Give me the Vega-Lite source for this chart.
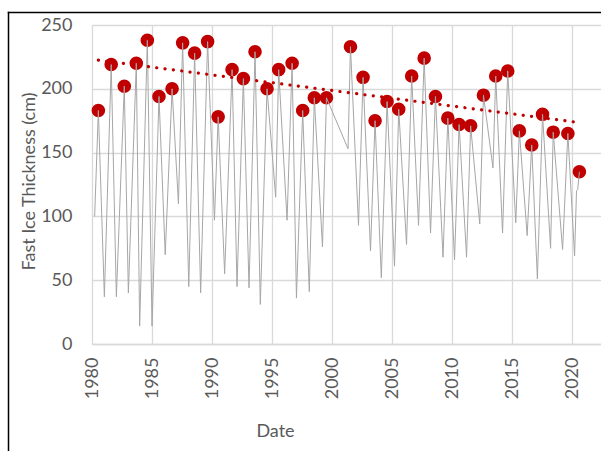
{
  "$schema": "https://vega.github.io/schema/vega-lite/v6.json",
  "width": 509,
  "height": 319,
  "autosize": {"type": "none"},
  "padding": {"left": 92, "top": 25, "right": 0, "bottom": 107},
  "background": "white",
  "config": {
    "view": {"stroke": null},
    "font": "Lato",
    "axis": {
      "labelFont": "Lato", "labelFontSize": 18, "labelColor": "#595959",
      "titleFont": "Lato", "titleFontSize": 18, "titleColor": "#595959", "titleFontWeight": "normal",
      "gridColor": "#d9d9d9", "gridWidth": 1.3, "ticks": false,
      "domainColor": "#d9d9d9", "domainWidth": 1.3
    }
  },
  "data": {"values": [
    {"year": 1980.22, "thickness": 100, "annual_max": false},
    {"year": 1980.53, "thickness": 183, "annual_max": true},
    {"year": 1981.03, "thickness": 37, "annual_max": false},
    {"year": 1981.60, "thickness": 219, "annual_max": true},
    {"year": 1982.03, "thickness": 37, "annual_max": false},
    {"year": 1982.69, "thickness": 202, "annual_max": true},
    {"year": 1983.03, "thickness": 40, "annual_max": false},
    {"year": 1983.69, "thickness": 220, "annual_max": true},
    {"year": 1983.97, "thickness": 14, "annual_max": false},
    {"year": 1984.61, "thickness": 238, "annual_max": true},
    {"year": 1985.00, "thickness": 14, "annual_max": false},
    {"year": 1985.58, "thickness": 194, "annual_max": true},
    {"year": 1986.10, "thickness": 70, "annual_max": false},
    {"year": 1986.67, "thickness": 200, "annual_max": true},
    {"year": 1987.20, "thickness": 110, "annual_max": false},
    {"year": 1987.55, "thickness": 236, "annual_max": true},
    {"year": 1988.06, "thickness": 45, "annual_max": false},
    {"year": 1988.55, "thickness": 228, "annual_max": true},
    {"year": 1989.05, "thickness": 40, "annual_max": false},
    {"year": 1989.63, "thickness": 237, "annual_max": true},
    {"year": 1990.20, "thickness": 97, "annual_max": false},
    {"year": 1990.51, "thickness": 178, "annual_max": true},
    {"year": 1991.05, "thickness": 55, "annual_max": false},
    {"year": 1991.67, "thickness": 215, "annual_max": true},
    {"year": 1992.08, "thickness": 45, "annual_max": false},
    {"year": 1992.61, "thickness": 208, "annual_max": true},
    {"year": 1993.08, "thickness": 44, "annual_max": false},
    {"year": 1993.58, "thickness": 229, "annual_max": true},
    {"year": 1994.02, "thickness": 31, "annual_max": false},
    {"year": 1994.58, "thickness": 200, "annual_max": true},
    {"year": 1995.30, "thickness": 115, "annual_max": false},
    {"year": 1995.55, "thickness": 215, "annual_max": true},
    {"year": 1996.25, "thickness": 97, "annual_max": false},
    {"year": 1996.67, "thickness": 220, "annual_max": true},
    {"year": 1997.03, "thickness": 36, "annual_max": false},
    {"year": 1997.55, "thickness": 183, "annual_max": true},
    {"year": 1998.10, "thickness": 41, "annual_max": false},
    {"year": 1998.52, "thickness": 193, "annual_max": true},
    {"year": 1999.20, "thickness": 76, "annual_max": false},
    {"year": 1999.53, "thickness": 193, "annual_max": true},
    {"year": 2001.33, "thickness": 153, "annual_max": false},
    {"year": 2001.53, "thickness": 233, "annual_max": true},
    {"year": 2002.20, "thickness": 93, "annual_max": false},
    {"year": 2002.58, "thickness": 209, "annual_max": true},
    {"year": 2003.20, "thickness": 73, "annual_max": false},
    {"year": 2003.58, "thickness": 175, "annual_max": true},
    {"year": 2004.10, "thickness": 52, "annual_max": false},
    {"year": 2004.58, "thickness": 190, "annual_max": true},
    {"year": 2005.20, "thickness": 61, "annual_max": false},
    {"year": 2005.55, "thickness": 184, "annual_max": true},
    {"year": 2006.20, "thickness": 78, "annual_max": false},
    {"year": 2006.63, "thickness": 210, "annual_max": true},
    {"year": 2007.20, "thickness": 93, "annual_max": false},
    {"year": 2007.67, "thickness": 224, "annual_max": true},
    {"year": 2008.20, "thickness": 87, "annual_max": false},
    {"year": 2008.61, "thickness": 194, "annual_max": true},
    {"year": 2009.24, "thickness": 68, "annual_max": false},
    {"year": 2009.64, "thickness": 177, "annual_max": true},
    {"year": 2010.20, "thickness": 66, "annual_max": false},
    {"year": 2010.58, "thickness": 172, "annual_max": true},
    {"year": 2011.20, "thickness": 68, "annual_max": false},
    {"year": 2011.54, "thickness": 171, "annual_max": true},
    {"year": 2012.30, "thickness": 94, "annual_max": false},
    {"year": 2012.61, "thickness": 195, "annual_max": true},
    {"year": 2013.40, "thickness": 138, "annual_max": false},
    {"year": 2013.63, "thickness": 210, "annual_max": true},
    {"year": 2014.20, "thickness": 87, "annual_max": false},
    {"year": 2014.63, "thickness": 214, "annual_max": true},
    {"year": 2015.30, "thickness": 95, "annual_max": false},
    {"year": 2015.60, "thickness": 167, "annual_max": true},
    {"year": 2016.25, "thickness": 85, "annual_max": false},
    {"year": 2016.63, "thickness": 156, "annual_max": true},
    {"year": 2017.10, "thickness": 51, "annual_max": false},
    {"year": 2017.53, "thickness": 180, "annual_max": true},
    {"year": 2018.20, "thickness": 75, "annual_max": false},
    {"year": 2018.42, "thickness": 166, "annual_max": true},
    {"year": 2019.20, "thickness": 74, "annual_max": false},
    {"year": 2019.64, "thickness": 165, "annual_max": true},
    {"year": 2020.20, "thickness": 69, "annual_max": false},
    {"year": 2020.36, "thickness": 120, "annual_max": false},
    {"year": 2020.46, "thickness": 121, "annual_max": false},
    {"year": 2020.60, "thickness": 135, "annual_max": true}
  ]},
  "layer": [
    {
      "encoding": {
        "x": {
          "field": "year", "type": "quantitative",
          "scale": {"domain": [1980, 2022.4], "nice": false, "zero": false},
          "axis": {
            "title": "Date", "values": [1980, 1985, 1990, 1995, 2000, 2005, 2010, 2015, 2020],
            "format": "d", "labelAngle": -90, "labelPadding": 13,
            "titleX": 183, "titleY": 78, "titleBaseline": "top", "titleAlign": "center"
          }
        },
        "y": {
          "field": "thickness", "type": "quantitative",
          "scale": {"domain": [0, 250], "nice": false},
          "axis": {
            "title": "Fast Ice Thickness (cm)", "values": [0, 50, 100, 150, 200, 250],
            "domain": false, "labelPadding": 20,
            "titleX": -58, "titleY": 156, "titleBaseline": "alphabetic", "titleAlign": "center", "titleAngle": -90
          }
        }
      },
      "layer": [
        {
          "transform": [{"filter": "datum.annual_max"}],
          "mark": {"type": "circle", "size": 185, "color": "#c00000", "opacity": 1}
        },
        {
          "mark": {"type": "line", "color": "#a6a6a6", "strokeWidth": 1}
        },
        {
          "transform": [
            {"filter": "datum.annual_max"},
            {"regression": "thickness", "on": "year"}
          ],
          "mark": {"type": "line", "color": "#c00000", "strokeWidth": 3.2, "strokeDash": [0.1, 8.3], "strokeCap": "round"}
        }
      ]
    },
    {
      "mark": {"type": "point", "opacity": 0},
      "encoding": {
        "x": {
          "field": "year", "type": "quantitative",
          "scale": {"domain": [1980, 2022.4], "range": [-84, 530], "nice": false, "zero": false},
          "axis": {"orient": "top", "offset": 13, "labels": false, "ticks": false, "grid": false, "title": null,
                   "domainColor": "black", "domainWidth": 1.5, "domainCap": "square"}
        },
        "y": {
          "field": "thickness", "type": "quantitative",
          "scale": {"domain": [0, 250], "range": [430, -13], "nice": false},
          "axis": {"orient": "left", "offset": 84, "labels": false, "ticks": false, "grid": false, "title": null,
                   "domainColor": "black", "domainWidth": 1.5, "domainCap": "square"}
        }
      }
    }
  ],
  "resolve": {"scale": {"x": "independent", "y": "independent"}, "axis": {"x": "independent", "y": "independent"}}
}
